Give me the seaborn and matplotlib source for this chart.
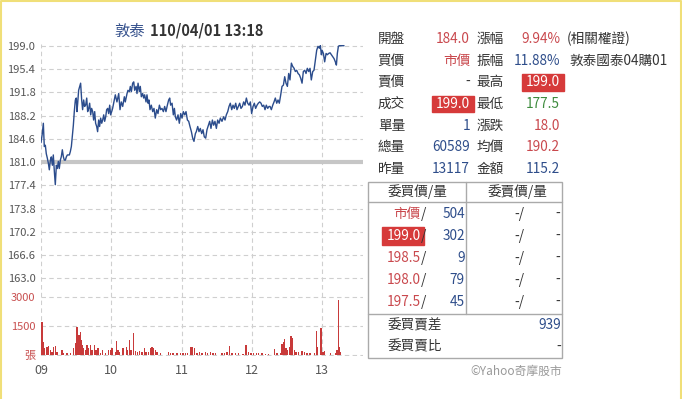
import matplotlib
matplotlib.use("Agg")
import matplotlib.pyplot as plt
from matplotlib.patches import Rectangle
import seaborn as sns
import pandas as pd

# price trace, minutes after 09:00
price_min = [0, 1.1, 2.0, 2.8, 3.7, 4.5, 5.4, 6.3, 7.1, 8.0, 8.8, 9.7, 10.5, 11.4, 12.2, 13.1, 13.9, 14.8, 15.6, 16.5,
             17.3, 18.2, 19.1, 19.9, 20.8, 21.6, 22.5, 23.3, 24.2, 25.0, 25.9, 26.7, 27.6, 28.4, 29.3, 30.1, 30.7, 31.3,
             32.1, 33.0, 33.8, 34.7, 35.5, 36.4, 37.2, 38.1, 39.0, 39.8, 40.7, 41.5, 42.4, 43.2, 44.1, 44.9, 45.8, 46.6,
             47.5, 48.3, 49.2, 50.0, 50.9, 51.8, 52.6, 53.5, 54.3, 55.2, 56.0, 56.9, 57.7, 58.6, 59.4, 60.3, 61.1, 62.0,
             63.4, 64.8, 66.3, 67.4, 68.5, 69.7, 71.1, 71.9, 73.4, 74.2, 75.4, 76.2, 77.1, 78.2, 79.1, 79.9, 81.1, 81.9,
             82.8, 83.9, 84.7, 85.6, 86.7, 87.6, 88.4, 89.6, 90.4, 91.3, 92.1, 93.0, 94.1, 95.3, 96.4, 97.5, 98.7, 99.8,
             101.0, 102.1, 103.2, 104.4, 105.5, 106.6, 107.8, 108.9, 109.8, 110.6, 111.8, 112.9, 113.8, 114.6, 115.7,
             116.9, 118.0, 119.2, 120.3, 121.4, 122.6, 123.7, 124.9, 126.0, 127.1, 128.3, 129.4, 130.5,
             131.7, 132.5, 133.7, 134.8, 135.9, 137.1, 138.2, 139.3, 140.5, 141.6, 142.8, 143.9, 145.0, 146.2, 147.3,
             148.4, 149.6, 150.7, 151.9, 153.0, 154.4, 155.8, 157.0, 158.1, 159.3, 160.4, 161.5, 162.7, 163.8, 164.9,
             166.1, 167.2, 168.4, 169.5, 170.6, 171.8, 172.9, 174.0, 175.2, 176.3, 177.5, 178.6, 179.7, 180.9, 182.0,
             183.1, 184.3, 185.4, 186.6, 187.7, 188.8, 190.0, 191.1, 192.2, 193.4, 194.5,
             195.4, 196.5, 197.7, 198.8, 199.9, 201.1, 202.2, 203.3, 204.5, 205.6, 206.8, 207.9, 209.0, 210.2, 211.3,
             212.4, 213.6, 214.7, 215.9, 217.0, 218.1, 219.3, 220.4, 221.5, 222.7, 223.8, 225.0, 226.1, 227.2, 228.4,
             229.5, 230.6, 231.8, 232.9, 234.1, 235.2, 236.3, 237.5, 238.3, 239.2, 239.8, 240.9, 242.0, 243.2, 244.3,
             245.4, 246.6, 247.7, 248.9, 250.0, 251.1, 252.0, 252.8, 253.7, 254.5, 256.2, 258.5]
price = [184.0, 185.4, 187.0, 183.4, 183.6, 182.3, 181.6, 180.8, 179.8, 181.3, 181.8, 180.5, 182.1, 179.5, 177.5, 180.5,
         180.0, 181.1, 180.0, 181.3, 181.8, 182.9, 181.8, 181.3, 181.3, 181.8, 182.1, 182.1, 182.1, 182.6, 183.4, 184.9,
         186.7, 188.8, 190.6, 190.9, 188.8, 190.1, 192.1, 192.7, 193.2, 190.6, 189.1, 190.6, 189.6, 189.8, 190.9, 188.8,
         189.3, 190.1, 188.3, 189.3, 188.8, 187.5, 188.8, 187.0, 186.5, 185.7, 187.5, 186.5, 187.8, 187.0, 187.5, 188.3,
         187.3, 188.0, 189.1, 189.3, 188.5, 189.8, 188.3, 188.8, 189.3, 190.1,
         191.4, 190.3, 191.6, 189.1, 190.3, 189.6, 191.1, 190.3, 191.6, 192.1, 191.9, 192.7, 191.9, 193.2, 193.4, 192.1,
         192.7, 191.6, 193.2, 191.9, 192.7, 191.1, 191.6, 190.9, 191.4, 190.3, 191.4, 190.1, 190.6, 189.1, 189.8, 188.8,
         189.3, 187.8, 189.1, 188.5, 189.8, 189.1, 189.3, 188.8, 189.6, 188.8, 189.8, 190.6, 190.9, 189.8, 190.1, 188.3,
         189.3, 188.0, 187.5, 188.3, 187.0, 188.5, 187.8, 188.8, 188.3, 188.8, 187.5, 187.3, 186.5, 185.7, 184.7, 184.2,
         185.4, 185.7, 186.5, 185.7, 186.2, 185.4, 186.0, 184.9, 184.7, 186.0, 186.7, 187.3, 186.2, 187.5, 186.7,
         187.3, 186.2, 187.5, 187.0, 187.8, 187.3, 188.0, 187.5, 188.3, 188.8, 189.6, 190.1, 189.1, 189.8, 189.3,
         190.1, 189.1, 189.6, 190.1, 189.3, 189.6, 190.3, 189.8, 190.9, 190.1, 189.8, 190.3, 188.5, 189.6, 190.1,
         189.3, 189.8, 190.1, 190.3, 190.1, 189.6, 189.8, 189.1, 189.8, 189.3, 189.6,
         189.6, 189.1, 189.8, 190.3, 190.9, 190.1, 190.6, 190.1, 191.4, 192.7, 192.9, 194.2, 193.2, 192.7, 194.7,
         193.7, 196.3, 195.8, 195.5, 195.0, 195.2, 194.7, 194.5, 194.0, 193.2, 195.0, 195.2, 194.7, 195.5, 195.0,
         195.5, 193.7, 195.0, 195.2, 196.8, 198.3, 198.9, 198.6, 199.0, 197.6, 198.3, 197.8, 196.5, 197.8, 197.6,
         197.8, 197.9, 197.6, 197.3, 197.0, 196.5, 196.0, 197.8, 198.9, 199.0, 199.0, 199.0]

vol_min = [0.9, 1.7, 3.1, 5.1, 6.5, 8.0, 9.4, 10.8, 12.2, 13.6, 17.9, 19.3, 22.2, 25.0, 27.9, 29.3, 30.1, 30.7, 31.6,
           32.4, 33.6, 34.4, 35.3, 36.4, 37.8, 39.2, 40.7, 42.1, 43.5, 45.8, 46.9, 48.6, 50.6, 52.6, 54.9, 57.7, 59.1,
           60.6, 63.4, 64.5, 65.7, 67.1, 69.9, 72.8, 73.9, 75.3, 76.8, 79.0, 80.5, 82.5, 84.2, 86.2, 88.1, 89.6, 91.8,
           93.3, 94.7, 96.1, 97.5, 98.9, 101.8, 108.9, 110.3, 112.6, 116.0, 118.9, 121.1, 123.1, 125.1, 128.0, 129.4,
           130.8, 133.1, 135.3, 137.3, 140.2, 142.2, 144.4, 146.7, 148.7, 154.4, 156.4, 158.7, 160.9, 162.9, 165.8,
           168.6, 172.3, 175.1, 177.1, 179.1, 181.4, 183.7, 185.7, 188.5, 191.4, 194.2, 199.3, 201.3, 204.2, 205.6,
           207.0, 207.8, 209.0, 210.4, 212.1, 213.3, 214.4, 216.1, 217.5, 219.8, 222.6, 224.6, 226.9, 229.7, 233.2,
           234.9, 236.0, 238.8, 240.5, 241.7, 246.8, 251.1, 252.5, 253.9, 254.8, 255.3]
volume = [1700, 680, 340, 430, 480, 260, 170, 430, 480, 170, 260, 120, 85, 120, 340, 600, 1030, 1450, 940, 1030, 1160,
          770, 510, 340, 260, 510, 340, 510, 260, 510, 260, 340, 85, 260, 85, 260, 260, 340, 170, 720, 260, 170, 340,
          430, 260, 770, 260, 1150, 220, 170, 220, 170, 340, 170, 170, 340, 430, 340, 260, 170, 85, 170, 120, 85, 120,
          85, 85, 120, 85, 430, 390, 340, 120, 170, 85, 170, 120, 170, 85, 85, 85, 120, 170, 480, 85, 120, 85, 50,
          510, 170, 85, 120, 85, 85, 85, 50, 50, 310, 85, 85, 560, 680, 820, 340, 260, 430, 990, 850, 260, 170, 170,
          220, 170, 120, 85, 85, 1230, 430, 1370, 170, 200, 85, 120, 260, 2830, 430, 170]

price_ticks = [163.0, 166.6, 170.2, 173.8, 177.4, 181.0, 184.6, 188.2, 191.8, 195.4, 199.0]
vol_ticks = [0, 1500, 3000]
vol_tick_labels = ["張", "1500", "3000"]
hour_ticks = [0, 60, 120, 180, 240]
hour_labels = ["09", "10", "11", "12", "13"]
prev_close = 181.0

quote_labels_1 = ["開盤", "買價", "賣價", "成交", "單量", "總量", "昨量"]
quote_values_1 = ["184.0", "市價", "-", "199.0", "1", "60589", "13117"]
quote_labels_2 = ["漲幅", "振幅", "最高", "最低", "漲跌", "均價", "金額"]
quote_values_2 = ["9.94%", "11.88%", "199.0", "177.5", "18.0", "190.2", "115.2"]
bid_prices = ["市價", "199.0", "198.5", "198.0", "197.5"]
bid_volumes = ["504", "302", "9", "79", "45"]

RED = "#c9484d"
BLUE = "#2e4d8a"
GREEN = "#3d8b3d"
DARK = "#333333"
BOX = "#d63a3a"

sns.set_style("white")
plt.rcParams["font.family"] = ["Noto Sans CJK TC", "DejaVu Sans"]

fig = plt.figure(figsize=(6.82, 3.99), dpi=100)
W, H = 682, 399

# chart area in pixels: x 41..363, y 44..356
ax = fig.add_axes([41 / W, 1 - 356 / H, 322 / W, 312 / H])
xmax = 322 / 1.1722
df = pd.DataFrame({"minute": price_min, "price": price})
ax.axhline(prev_close, color="#c6c6c6", lw=3, zorder=1)
sns.lineplot(data=df, x="minute", y="price", ax=ax, color="#2b4c8c", lw=1, zorder=3)
ax.set_xlim(0, xmax)
ax.set_ylim(151.0, 199.26)
ax.set_yticks(price_ticks)
ax.set_yticklabels([f"{t:.1f}" for t in price_ticks])
ax.set_xticks(hour_ticks)
ax.set_xticklabels(hour_labels)
ax.set_xlabel("")
ax.set_ylabel("")
grid_kw = dict(color="#cfcfcf", lw=0.8, ls=(0, (4, 3)))
for t in price_ticks:
    ax.axhline(t, zorder=0, **grid_kw)
for t in hour_ticks:
    ax.axvline(t, ymin=-0.01, zorder=0, **grid_kw)
ax.tick_params(axis="both", length=0, labelcolor="#555555")
ax.tick_params(axis="y", labelsize=8, pad=4)
ax.tick_params(axis="x", labelsize=9, pad=6)
for s in ax.spines.values():
    s.set_visible(False)

ax2 = ax.twinx()
ax2.bar(vol_min, volume, width=1.3, color="#c83a3a", linewidth=0)
ax2.set_ylim(-51, 15950)
ax2.yaxis.tick_left()
ax2.set_yticks(vol_ticks)
ax2.set_yticklabels(vol_tick_labels)
ax2.tick_params(axis="y", length=0, labelsize=8, labelcolor="#c85050", pad=4)
for t in vol_ticks:
    ax2.axhline(t, zorder=0, **grid_kw)
for s in ax2.spines.values():
    s.set_visible(False)

# overlay in pixel coordinates for title and quote table
ov = fig.add_axes([0, 0, 1, 1], zorder=5)
ov.set_xlim(0, W)
ov.set_ylim(H, 0)
ov.axis("off")
ov.patch.set_alpha(0)

ov.text(145, 31, "敦泰", color="#34508c", fontsize=11, ha="right", va="center")
ov.text(150, 31, "110/04/01 13:18", color=DARK, fontsize=10.5, fontweight="bold", ha="left", va="center")

rows = [39, 60.7, 82.3, 104, 125.7, 147.3, 169]
col1_colors = [RED, RED, DARK, "white", BLUE, BLUE, BLUE]
col2_colors = [RED, BLUE, "white", GREEN, RED, RED, BLUE]
fs = 9.8
for i, y in enumerate(rows):
    ov.text(377.7, y, quote_labels_1[i], color=DARK, fontsize=fs, ha="left", va="center")
    ov.text(470, y, quote_values_1[i], color=col1_colors[i], fontsize=fs, ha="right", va="center")
    ov.text(476.7, y, quote_labels_2[i], color=DARK, fontsize=fs, ha="left", va="center")
    ov.text(560, y, quote_values_2[i], color=col2_colors[i], fontsize=fs, ha="right", va="center")
ov.add_patch(Rectangle((431.7, 95.7), 42.3, 16.6, color=BOX, zorder=0))
ov.add_patch(Rectangle((522.3, 74.3), 41.7, 16.7, color=BOX, zorder=0))

ov.text(566.7, 39, "(相關權證)", color=DARK, fontsize=fs, ha="left", va="center")
ov.text(569, 61, "敦泰國泰04購01", color=DARK, fontsize=fs, ha="left", va="center")

# order book table
line_c = "#aaaaaa"
ov.add_patch(Rectangle((368.3, 182.3), 194, 176, fill=False, ec=line_c, lw=1))
ov.plot([368.3, 562.3], [202.3, 202.3], color=line_c, lw=1)
ov.plot([368.3, 562.3], [314, 314], color=line_c, lw=1)
ov.plot([466.3, 466.3], [182.3, 314], color=line_c, lw=1)
ov.text(417.7, 191.7, "委買價/量", color=DARK, fontsize=fs, ha="center", va="center")
ov.text(517.7, 191.7, "委賣價/量", color=DARK, fontsize=fs, ha="center", va="center")
book_rows = [214, 236, 257.7, 279.7, 301.7]
for i, y in enumerate(book_rows):
    c = "white" if i == 1 else RED
    ov.text(420.5, y, bid_prices[i], color=c, fontsize=fs, ha="right", va="center")
    ov.text(421, y, "/", color=DARK, fontsize=fs, ha="left", va="center")
    ov.text(465, y, bid_volumes[i], color=BLUE, fontsize=fs, ha="right", va="center")
    ov.text(524.3, y, "-/", color=DARK, fontsize=fs, ha="right", va="center")
    ov.text(560, y, "-", color=DARK, fontsize=fs, ha="right", va="center")
ov.add_patch(Rectangle((382.3, 226.7), 41.7, 18.3, color=BOX, zorder=0))
ov.text(387.7, 325, "委買賣差", color=DARK, fontsize=fs, ha="left", va="center")
ov.text(561, 325, "939", color=BLUE, fontsize=fs, ha="right", va="center")
ov.text(387.7, 346.7, "委買賣比", color=DARK, fontsize=fs, ha="left", va="center")
ov.text(561, 346.7, "-", color=DARK, fontsize=fs, ha="right", va="center")
ov.text(561.7, 371.7, "©Yahoo奇摩股市", color="#999999", fontsize=8.5, ha="right", va="center")

# yellow frame
ov.plot([0.8, 0.8, 681.2, 681.2], [H, 0.8, 0.8, H], color="#f0df78", lw=1.5)

fig.savefig("out.png", dpi=100)
